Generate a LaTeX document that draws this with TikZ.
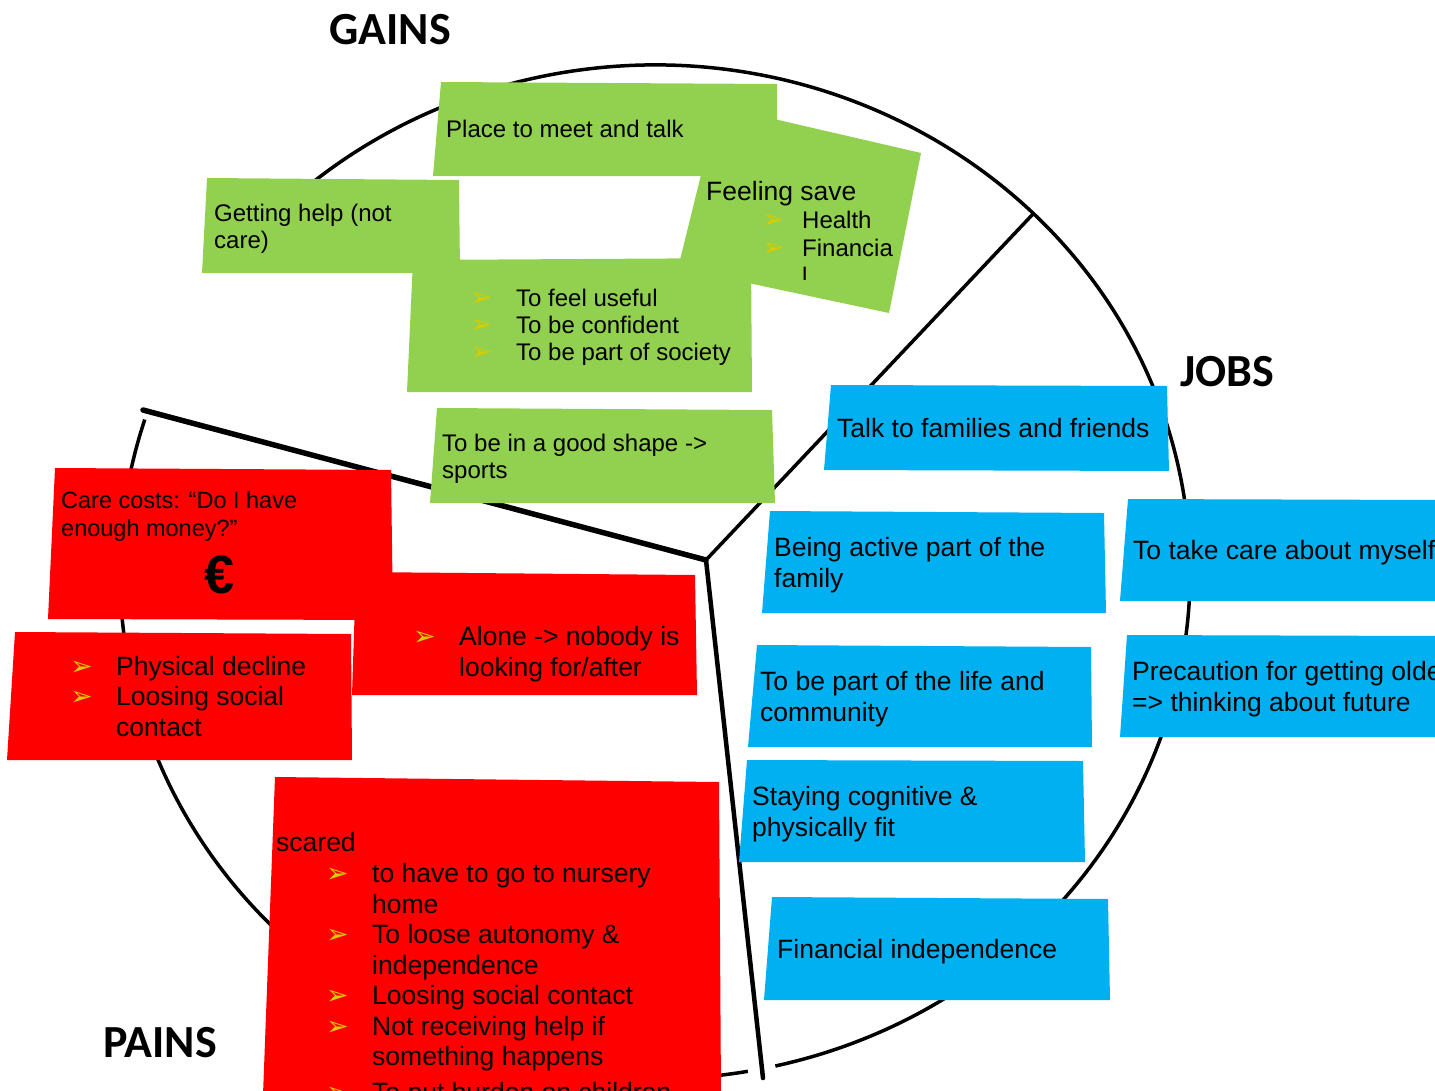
\documentclass[tikz,border=0pt]{standalone}
\usepackage{fontspec}
\setmainfont{Liberation Sans}
\newfontfamily\titlefont{Carlito}
\newfontfamily\symfont{DejaVu Sans}
\definecolor{gainc}{RGB}{146,208,80}
\definecolor{painc}{RGB}{255,0,0}
\definecolor{jobc}{RGB}{0,176,240}
\definecolor{bulc}{RGB}{214,204,0}
\newcommand*{\Note}[5]{% #1 = colour, #2..#5 = corners
  \fill[#1] #2 -- #3 -- #4 -- #5 -- cycle;
}
\newcommand*{\bul}{{\symfont\fontsize{27}{27}\selectfont\color{bulc}➢}}
\newcommand*{\itm}[2]{\makebox[#2][l]{\hspace*{#1}\bul}}% #1 = bullet indent, #2 = text indent
\newcommand*{\fsGain}{\fontsize{24}{27}\selectfont}
\newcommand*{\fsJob}{\fontsize{26.5}{30.5}\selectfont}
\newcommand*{\fsCare}{\fontsize{23.5}{28}\selectfont}
\tikzset{
  rim/.style={line width=3.5pt},
  divider/.style={line width=#1, line cap=round},
  txt/.style={anchor=base west, inner sep=0pt, align=left},% base = last line
  title/.style={font=\titlefont\bfseries\fontsize{46}{46}\selectfont},
}

\begin{document}
\begin{tikzpicture}[x=1pt,y=-1pt]
  \useasboundingbox (0,0) rectangle (1435,1090);
  \clip (0,0) rectangle (1435,1090);

  % the circle and its three sectors
  \begin{scope}[shift={(655,572)}]
    \draw[rim] (197.5:535 and 507) arc[start angle=197.5, end angle=80, x radius=535, y radius=507];
    \draw[rim] (77:535 and 507) arc[start angle=77, end angle=-142, x radius=535, y radius=507];
  \end{scope}
  \coordinate (hub) at (706,560);
  \coordinate (gainend) at (143,410);
  \coordinate (jobend) at (1033,214);
  \coordinate (painend) at (763,1078);
  \draw[divider=3.5pt] (hub) -- (jobend);
  \draw[divider=5.5pt] (gainend) -- (hub);
  \draw[divider=4.5pt] (hub) -- (painend);

  \node[title] (gains) at (390,30) {GAINS};
  \node[title] (jobs) at (1227,372) {JOBS};
  \node[title] (pains) at (160,1043) {PAINS};

  % gains
  \Note{gainc}{(441,82)}{(777,84)}{(777,176)}{(433,176)}
  \Note{gainc}{(718,106)}{(921,153)}{(889,313)}{(678,268)}
  \Note{gainc}{(207,178)}{(459,180)}{(460,273)}{(202,273)}
  \Note{gainc}{(413,260)}{(751,258)}{(752,392)}{(407,392)}
  \Note{gainc}{(437,408)}{(772,410)}{(775,503)}{(430,503)}
  \node[txt, font=\fsGain] (place) at (446,137) {Place to meet and talk};
  \node[txt, font=\fsJob] (safe) at (706,200) {Feeling save};
  \begin{scope}
    \clip (690,150) rectangle (930,279);
    \node[txt, font=\fsGain] (safelist) at (762,284)
      {\itm{0pt}{40pt}Health\\[1pt] \itm{0pt}{40pt}Financia\\[1pt] \hspace*{40pt}l};
  \end{scope}
  \node[txt, font=\fsGain] (help) at (214,248) {Getting help (not\\ care)};
  \node[txt, font=\fsGain] (useful) at (470,360)
    {\itm{0pt}{46pt}To feel useful\\ \itm{0pt}{46pt}To be confident\\ \itm{0pt}{46pt}To be part of society};
  \node[txt, font=\fsGain] (shape) at (442,478) {To be in a good shape ->\\ sports};

  % pains
  \Note{painc}{(55,468)}{(391,470)}{(393,620)}{(48,619)}
  \Note{painc}{(356,572)}{(695,575)}{(697,695)}{(352,695)}
  \Note{painc}{(15,632)}{(351,634)}{(352,760)}{(7,760)}
  \Note{painc}{(275,777)}{(719,782)}{(721,1095)}{(263,1095)}
  \node[txt, font=\fsCare] (costs) at (61,536) {Care costs: “Do I have\\ enough money?”};
  \node[font=\bfseries\fontsize{54}{54}\selectfont] (euro) at (220,575) {€};
  \node[txt, font=\fsJob] (alone) at (413,676)
    {\itm{0pt}{46pt}Alone -> nobody is\\ \hspace*{46pt}looking for/after};
  \node[txt, font=\fsJob] (decline) at (70,736)
    {\itm{0pt}{46pt}Physical decline\\ \itm{0pt}{46pt}Loosing social\\ \hspace*{46pt}contact};
  \node[txt, font=\fsJob] (scared) at (276,1101)
    {scared\\[1pt]
     \itm{50pt}{96pt}to have to go to nursery\\ \hspace*{96pt}home\\
     \itm{50pt}{96pt}To loose autonomy \&\\ \hspace*{96pt}independence\\
     \itm{50pt}{96pt}Loosing social contact\\
     \itm{50pt}{96pt}Not receiving help if\\ \hspace*{96pt}something happens\\[5pt]
     \itm{50pt}{96pt}To put burden on children};

  % jobs
  \Note{jobc}{(831,385)}{(1167,386)}{(1169,471)}{(824,470)}
  \Note{jobc}{(770,511)}{(1104,513)}{(1106,613)}{(762,613)}
  \Note{jobc}{(1128,499)}{(1440,500)}{(1440,601)}{(1120,601)}
  \Note{jobc}{(757,645)}{(1091,647)}{(1092,747)}{(748,747)}
  \Note{jobc}{(1127,635)}{(1440,636)}{(1440,737)}{(1120,737)}
  \Note{jobc}{(747,760)}{(1083,761)}{(1085,862)}{(739,862)}
  \Note{jobc}{(772,897)}{(1108,899)}{(1110,1000)}{(764,1000)}
  \node[txt, font=\fsJob] (talk) at (837,437) {Talk to families and friends};
  \node[txt, font=\fsJob] (family) at (774,587) {Being active part of the\\ family};
  \node[txt, font=\fsJob] (myself) at (1133,559) {To take care about myself};
  \node[txt, font=\fsJob] (community) at (760,721) {To be part of the life and\\ community};
  \node[txt, font=\fsJob] (future) at (1132,711) {Precaution for getting older\\ => thinking about future};
  \node[txt, font=\fsJob] (fit) at (752,836) {Staying cognitive \&\\ physically fit};
  \node[txt, font=\fsJob] (money) at (777,958) {Financial independence};
\end{tikzpicture}
\end{document}
